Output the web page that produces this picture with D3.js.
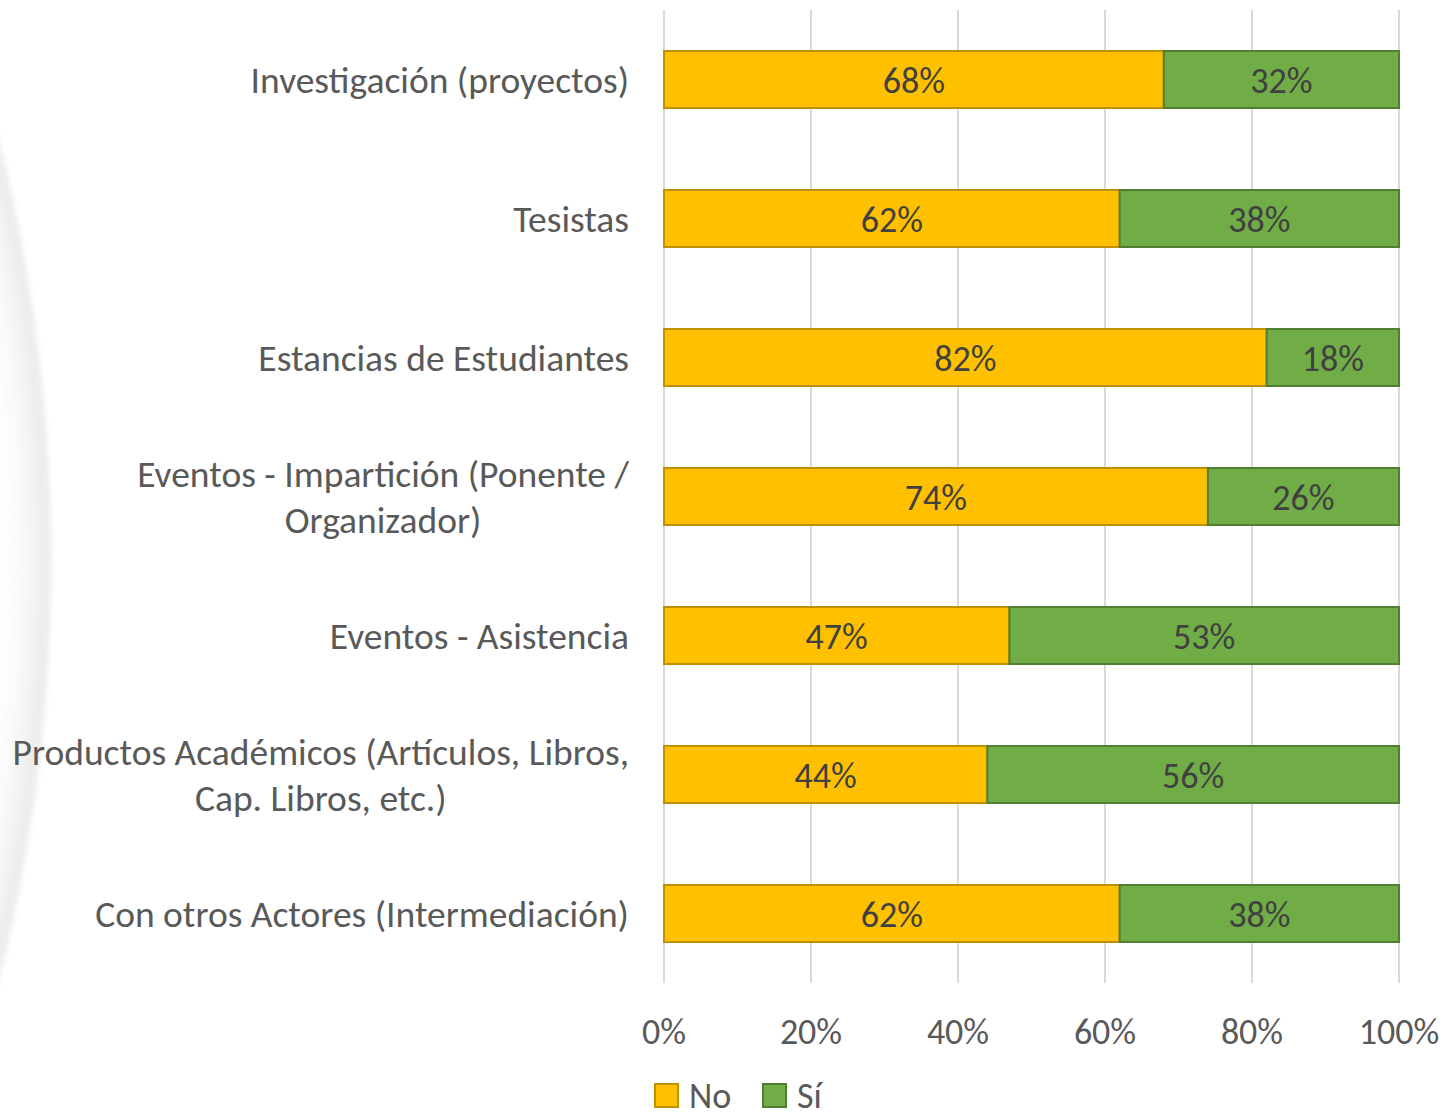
<!DOCTYPE html>
<html>
<head>
<meta charset="utf-8">
<script src="https://cdn.jsdelivr.net/npm/d3@7"></script>
<style>
  body { margin: 0; background: #fff; }
  svg { display: block; font-family: Carlito, Lato, "Open Sans", sans-serif; }
</style>
</head>
<body>
<script>
// categories, top to bottom
const categories = [
    "Investigación (proyectos)",
    "Tesistas",
    "Estancias de Estudiantes",
    "Eventos - Impartición (Ponente /\nOrganizador)",
    "Eventos - Asistencia",
    "Productos Académicos (Artículos, Libros,\nCap. Libros, etc.)",
    "Con otros Actores (Intermediación)"
];
const noValues = [68, 62, 82, 74, 47, 44, 62];
const siValues = [32, 38, 18, 26, 53, 56, 38];
const seriesNames = ["No", "Sí"];
const tickValues = [0, 20, 40, 60, 80, 100];

const W = 1448, H = 1119;
const margin = { top: 10, right: 49, bottom: 136, left: 664 };

const fills = { "No": "#FFC000", "Sí": "#70AD47" };
const strokes = { "No": "#BF9000", "Sí": "#507E32" };

const svg = d3.select("body").append("svg")
    .attr("width", W)
    .attr("height", H);

// faint decorative arc on the left
const defs = svg.append("defs");
const grad = defs.append("radialGradient").attr("id", "arcShade")
    .attr("gradientUnits", "userSpaceOnUse")
    .attr("cx", -1670).attr("cy", 560).attr("r", 1722);
grad.append("stop").attr("offset", "0.965").attr("stop-color", "#fff").attr("stop-opacity", 0);
grad.append("stop").attr("offset", "0.996").attr("stop-color", "#ececec").attr("stop-opacity", 1);
grad.append("stop").attr("offset", "1").attr("stop-color", "#f2f2f2").attr("stop-opacity", 1);
defs.append("filter").attr("id", "soft")
    .append("feGaussianBlur").attr("stdDeviation", 2);
svg.append("circle")
    .attr("cx", -1670).attr("cy", 560).attr("r", 1722)
    .attr("fill", "url(#arcShade)")
    .attr("filter", "url(#soft)");

const x = d3.scaleLinear()
    .domain([0, 100])
    .range([margin.left, W - margin.right]);

const y = d3.scaleBand()
    .domain(categories)
    .range([margin.top, H - margin.bottom])
    .paddingInner(0.59)
    .paddingOuter(0.295);

// gridlines
svg.append("g")
    .selectAll("line")
    .data(tickValues)
    .enter().append("line")
    .attr("x1", d => x(d)).attr("x2", d => x(d))
    .attr("y1", margin.top).attr("y2", H - margin.bottom)
    .attr("stroke", "#d9d9d9")
    .attr("stroke-width", 2);

// stacked data
const rows = categories.map((c, i) => ({ cat: c, "No": noValues[i], "Sí": siValues[i] }));
const stack = d3.stack().keys(seriesNames)(rows);

const layer = svg.append("g")
    .selectAll("g")
    .data(stack)
    .enter().append("g");

const segs = s => s.map(d => ({ key: s.key, d0: d[0], d1: d[1], cat: d.data.cat }));

layer.selectAll("rect")
    .data(segs)
    .enter().append("rect")
    .attr("x", d => x(d.d0))
    .attr("y", d => y(d.cat))
    .attr("width", d => x(d.d1) - x(d.d0))
    .attr("height", y.bandwidth())
    .attr("fill", d => fills[d.key])
    .attr("stroke", d => strokes[d.key])
    .attr("stroke-width", 2);

// value labels
layer.selectAll("text")
    .data(segs)
    .enter().append("text")
    .attr("x", d => (x(d.d0) + x(d.d1)) / 2)
    .attr("y", d => y(d.cat) + y.bandwidth() / 2)
    .attr("dy", "0.38em")
    .attr("text-anchor", "middle")
    .attr("font-size", 36)
    .attr("fill", "#404040")
    .text(d => Math.round(d.d1 - d.d0) + "%");

// category labels
const catLabels = svg.append("g")
    .selectAll("text")
    .data(categories)
    .enter().append("text")
    .attr("text-anchor", "end")
    .attr("font-size", 37.5)
    .attr("fill", "#595959")
    .attr("transform", d => "translate(629," + (y(d) + y.bandwidth() / 2) + ")");

catLabels.each(function (d) {
    const lines = d.split("\n");
    const el = d3.select(this);
    const lh = 46;
    lines.forEach((ln, i) => {
        el.append("tspan")
            .attr("x", 0)
            .attr("y", (i - (lines.length - 1) / 2) * lh)
            .attr("dy", "0.36em")
            .text(ln);
    });
    // wrapped lines are centred under the first one
    const tspans = el.selectAll("tspan").nodes();
    if (tspans.length > 1) {
        const w0 = tspans[0].getComputedTextLength();
        tspans.forEach(t => {
            const w = t.getComputedTextLength();
            d3.select(t).attr("x", -(w0 - w) / 2);
        });
    }
});

// x axis labels
svg.append("g")
    .selectAll("text")
    .data(tickValues)
    .enter().append("text")
    .attr("x", d => x(d))
    .attr("y", 1044)
    .attr("text-anchor", "middle")
    .attr("font-size", 36)
    .attr("fill", "#595959")
    .text(d => d + "%");

// legend
const legend = svg.append("g")
    .selectAll("g")
    .data(seriesNames)
    .enter().append("g")
    .attr("transform", (d, i) => "translate(" + (655 + i * 108) + ",1084)");

legend.append("rect")
    .attr("width", 23).attr("height", 23)
    .attr("fill", d => fills[d])
    .attr("stroke", d => strokes[d])
    .attr("stroke-width", 2);

legend.append("text")
    .attr("x", 34)
    .attr("y", 24)
    .attr("font-size", 36)
    .attr("fill", "#595959")
    .text(d => d);
</script>
</body>
</html>
